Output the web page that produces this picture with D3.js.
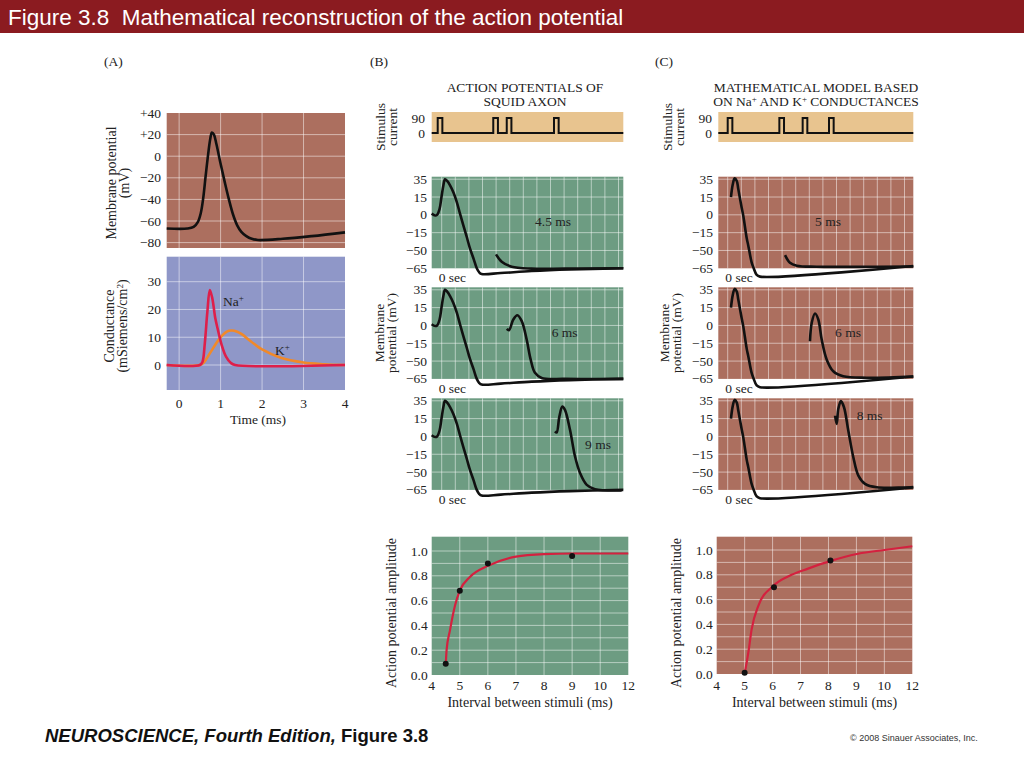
<!DOCTYPE html>
<html><head><meta charset="utf-8">
<script src="https://cdn.jsdelivr.net/npm/d3@7"></script>
<style>body{margin:0;background:#fff}svg{display:block}</style>
</head><body>
<svg id="c" width="1024" height="768"></svg>
<script>
// ---------------- DATA ----------------
const titleText = "Figure 3.8  Mathematical reconstruction of the action potential";
// Panel A: membrane potential (time ms, mV)
const apA = [[-0.3,-67],[0.2,-67],[0.35,-65.5],[0.45,-61],[0.52,-53],[0.58,-39],[0.64,-18],[0.7,2],[0.75,16],[0.79,22],[0.84,20],[0.9,11],[1.0,-7],[1.1,-24],[1.2,-40],[1.3,-54],[1.4,-64],[1.5,-70],[1.62,-74],[1.75,-76.5],[1.9,-77.6],[2.5,-76.5],[3.2,-74],[4,-70.5]];
const naCond = [[-0.3,0],[0.5,0],[0.56,1],[0.62,8],[0.68,19],[0.74,27],[0.8,24],[0.87,17],[0.93,13],[1.03,7],[1.13,3],[1.25,0.7],[1.35,0],[4,0]];
const kCond = [[-0.3,0],[0.5,0],[0.6,1],[0.74,4.2],[0.98,9.6],[1.15,12],[1.26,12.4],[1.4,12],[1.5,11.2],[1.74,8.4],[2,5.6],[2.45,2.6],[3,0.9],[3.5,0.3],[4,0]];
const ticksAtop = [40,20,0,-20,-40,-60,-80];
const ticksAcond = [0,10,20,30];
const ticksTime = [0,1,2,3,4];

// Panels B / C: stimulus onsets (ms) and traces (ms, mV)
const stimB = [0,4.41,5.48,9.23];
const stimC = [0,4.1,5.95,8.04];
const pulseWidth = 0.37;
const stimTicks = [0,90];
const mvTicks = [-65,-50,-15,0,15,35];
const apB = [[-0.48,1],[-0.2,-0.5],[-0.05,0],[0.15,5],[0.3,15],[0.45,28],[0.58,35],[0.75,33],[0.98,28],[1.25,20],[1.51,11],[1.77,1],[2.03,-8.7],[2.3,-23],[2.56,-45.8],[2.85,-57],[3.1,-65],[3.3,-68.5],[3.49,-69.8],[5,-69],[7.46,-67.3],[10.5,-66],[14.73,-65]];
const secondB45 = [[4.63,-53.3],[5.08,-59.5],[5.87,-63.7],[7.46,-65.3],[10.1,-65.3],[14.73,-65]];
const secondB6 = [[5.48,-2.9],[5.66,-4],[6.0,5],[6.32,8.6],[6.67,3.6],[7.06,-11.9],[7.38,-47.2],[7.72,-59.9],[8.25,-64.2],[10.1,-65],[14.73,-65]];
const secondB9 = [[9.31,4.2],[9.44,3.3],[9.65,16.8],[9.89,28.6],[10.1,24.8],[10.5,5.6],[10.9,-19.5],[11.3,-50.9],[11.83,-60.8],[12.48,-64.4],[14.6,-65.5]];
const apC = [[0.26,15],[0.4,29],[0.55,36],[0.72,33],[0.84,24],[1.11,6],[1.24,-1],[1.51,-26],[1.63,-40],[1.9,-60],[2.03,-64],[2.3,-70.5],[2.56,-72],[14.73,-63]];
const secondC5 = [[4.55,-53.9],[4.94,-60.3],[5.48,-62.8],[7.06,-63.7],[10,-63.8],[14.73,-63.5]];
const secondC6 = [[6.53,-13.3],[6.67,2.2],[6.93,10],[7.19,5],[7.46,-11.9],[7.86,-47.2],[8.38,-58.6],[9.17,-62.8],[11.03,-64],[14.73,-63]];
const secondC8 = [[8.52,18.4],[8.65,10.6],[8.78,26],[8.99,34.6],[9.23,27.8],[9.57,5],[9.97,-21],[10.37,-53],[10.9,-59.9],[11.83,-62.8],[14.73,-62.5]];
const labelsB = ["4.5 ms","6 ms","9 ms"];
const labelsC = ["5 ms","6 ms","8 ms"];

// Amplitude vs interval
const intervalTicks = [4,5,6,7,8,9,10,12];
const ampTicks = [0,0.2,0.4,0.6,0.8,1.0];
const curveBx = [4.5,4.53,4.65,4.83,5,5.36,6,7,8,9,10,12];
const curveBy = [0.08,0.2,0.36,0.56,0.68,0.79,0.88,0.955,0.975,0.98,0.98,0.98];
const dotsBx = [4.5,5,6,9];
const dotsBy = [0.09,0.68,0.9,0.96];
const curveCx = [5,5.13,5.25,5.49,6.02,6.68,7.27,8.05,9.06,10,12];
const curveCy = [0.0,0.17,0.36,0.55,0.71,0.80,0.85,0.91,0.97,1.0,1.03];
const dotsCx = [5,6.05,8.07];
const dotsCy = [0.01,0.70,0.915];

// ---------------- STYLE ----------------
const SERIF = "'Liberation Serif','Times New Roman',serif";
const SANS = "'Liberation Sans',Arial,sans-serif";
const C_RED = "#ac6f5f", C_GREEN = "#6d9c82", C_BLUE = "#8f97c8", C_TAN = "#e8c48f";
const GRID = "rgba(255,255,255,0.5)";
const FS = 13.5;
const svg = d3.select("#c");

// header
svg.append("rect").attr("x",0).attr("y",0).attr("width",1024).attr("height",33).attr("fill","#8b1b20");
svg.append("text").attr("x",8).attr("y",25).attr("fill","#fff").style("white-space","pre")
  .attr("font-family",SANS).attr("font-size",22.5).text(titleText);

// footer
const ft = svg.append("text").attr("x",45).attr("y",742).attr("font-family",SANS).attr("font-size",18.5).attr("font-weight","bold").attr("fill","#111").style("white-space","pre");
ft.append("tspan").attr("font-style","italic").text("NEUROSCIENCE, Fourth Edition, ");
ft.append("tspan").text("Figure 3.8");
svg.append("text").attr("x",850).attr("y",741).attr("font-family",SANS).attr("font-size",9).attr("fill","#333").text("© 2008 Sinauer Associates, Inc.");

function txt(x,y,s,opt={}){
  return svg.append("text").attr("x",x).attr("y",y).attr("font-family",SERIF)
    .attr("font-size",opt.size||FS).attr("fill",opt.fill||"#222")
    .attr("text-anchor",opt.anchor||"start").text(s);
}
function vtxt(x,y,s,size){
  return svg.append("text").attr("transform",`translate(${x},${y}) rotate(-90)`)
    .attr("font-family",SERIF).attr("font-size",size||14).attr("fill","#222")
    .attr("text-anchor","middle").text(s);
}
function panel(x0,x1,y0,y1,fill){
  svg.append("rect").attr("x",x0).attr("y",y0).attr("width",x1-x0).attr("height",y1-y0).attr("fill",fill);
}
function vgrid(xs,y0,y1){ svg.append("g").selectAll("line").data(xs).join("line")
  .attr("x1",d=>d).attr("x2",d=>d).attr("y1",y0).attr("y2",y1).attr("stroke",GRID).attr("stroke-width",1); }
function hgrid(ys,x0,x1){ svg.append("g").selectAll("line").data(ys).join("line")
  .attr("y1",d=>d).attr("y2",d=>d).attr("x1",x0).attr("x2",x1).attr("stroke",GRID).attr("stroke-width",1); }
const fmtSigned = v => v>0 ? "+"+v : v<0 ? "\u2212"+Math.abs(v) : "0";
const fmtMinus = v => v<0 ? "\u2212"+Math.abs(v) : String(v);

// ---------------- PANEL A ----------------
txt(104,66,"(A)");
const xA = d3.scaleLinear().domain([-0.3,4]).range([166.7,345]);
const yA1 = d3.scaleLinear().domain([-85,40]).range([248,113]);
const yA2 = d3.scaleLinear().domain([-9,39]).range([390,256.7]);
panel(xA(-0.3),xA(4),yA1(40),yA1(-85),C_RED);
vgrid([0,1,2,3].map(xA),yA1(40),yA1(-85));
hgrid(ticksAtop.slice(1).map(yA1),xA(-0.3),xA(4));
ticksAtop.forEach(v=>txt(161,yA1(v)+4.5,fmtSigned(v),{anchor:"end"}));
const curve = d3.curveCatmullRom.alpha(0.5);
svg.append("path").datum(apA).attr("fill","none").attr("stroke","#111").attr("stroke-width",2.6)
  .attr("d",d3.line().x(d=>xA(d[0])).y(d=>yA1(d[1])).curve(curve));
vtxt(116,183,"Membrane potential");
vtxt(129,183,"(mV)");

panel(xA(-0.3),xA(4),yA2(39),yA2(-9),C_BLUE);
vgrid([0,1,2,3].map(xA),yA2(39),yA2(-9));
hgrid(ticksAcond.map(yA2),xA(-0.3),xA(4));
ticksAcond.forEach(v=>txt(161,yA2(v)+4.5,String(v),{anchor:"end"}));
ticksTime.forEach(v=>txt(xA(v),408,String(v),{anchor:"middle"}));
txt(258,424,"Time (ms)",{anchor:"middle"});
svg.append("path").datum(kCond).attr("fill","none").attr("stroke","#f0892a").attr("stroke-width",2.6)
  .attr("d",d3.line().x(d=>xA(d[0])).y(d=>yA2(d[1])).curve(curve));
svg.append("path").datum(naCond).attr("fill","none").attr("stroke","#de1f4a").attr("stroke-width",2.6)
  .attr("d",d3.line().x(d=>xA(d[0])).y(d=>yA2(d[1])).curve(curve));
const naL = txt(223,306,"Na"); naL.append("tspan").attr("dy",-5).attr("font-size",9).text("+");
const kL = txt(275,355,"K"); kL.append("tspan").attr("dy",-5).attr("font-size",9).text("+");
vtxt(114,326,"Conductance");
const cl = vtxt(127,326,"(mSiemens/cm");
cl.append("tspan").attr("dy",-4).attr("font-size",9).text("2");
cl.append("tspan").attr("dy",4).text(")");

// ---------------- PANELS B & C ----------------
function column(cfg){
  const {x0,x1,tOrigin,stim,ap,seconds,labels,labelPos,tickX,stimLabX,memLabX,ampLabX,title1,title2,titleX,panelLetter,letterX,curveX,curveY,dotsX,dotsY,ampX0,ampX1,ampY0,gridStart} = cfg;
  txt(letterX,66,panelLetter);
  txt(titleX,92,title1,{anchor:"middle"});
  const t2 = svg.append("text").attr("x",titleX).attr("y",105.5).attr("font-family",SERIF).attr("font-size",FS).attr("fill","#222").attr("text-anchor","middle");
  title2.forEach(p=>{ const s=t2.append("tspan").text(p.t); if(p.sup){s.attr("dy",-4).attr("font-size",9);} else if(p.after){s.attr("dy",4);} });
  const pxPerMs = 12.6;
  const x = d3.scaleLinear().domain([(x0-tOrigin)/pxPerMs,(x1-tOrigin)/pxPerMs]).range([x0,x1]);
  const [tMin,tMax] = x.domain();
  // stimulus
  panel(x0,x1,112,142,C_TAN);
  const ys = d3.scaleLinear().domain([0,90]).range([133,118]);
  const sp = [[tMin,0]];
  stim.forEach(s=>{ sp.push([s,0],[s,90],[s+pulseWidth,90],[s+pulseWidth,0]); });
  sp.push([tMax,0]);
  svg.append("path").datum(sp).attr("fill","none").attr("stroke","#111").attr("stroke-width",2)
    .attr("d",d3.line().x(d=>x(d[0])).y(d=>ys(d[1])));
  stimTicks.forEach(v=>txt(stimLabX,ys(v)+4.5,String(v),{anchor:"end"}));
  vtxt(stimLabX-40,127,"Stimulus",13.5);
  vtxt(stimLabX-28,127,"current",13.5);
  // traces
  const tops = [176.7,287.3,398.3];
  const H = 91.6;
  tops.forEach((top,i)=>{
    const bottom = top+H, step=(H-2.5)/5;
    const y = d3.scaleLinear().domain(mvTicks).range(mvTicks.map((d,k)=>bottom-k*step));
    panel(x0,x1,top,bottom,cfg.bg);
    const gx = d3.range(14).map(k=>x0+gridStart+k*13.6);
    vgrid(gx,top,bottom);
    hgrid(mvTicks.slice(1).map(y),x0,x1);
    mvTicks.forEach(v=>txt(tickX,y(v)+4.5,fmtMinus(v),{anchor:"end"}));
    txt(x0+7,bottom+14,"0 sec");
    const line = d3.line().x(d=>x(d[0])).y(d=>y(d[1])).curve(curve);
    [ap,seconds[i]].forEach(s=>svg.append("path").datum(s).attr("fill","none").attr("stroke","#111")
      .attr("stroke-width",2.6).attr("stroke-linejoin","round").attr("d",line));
    txt(labelPos[i][0],labelPos[i][1],labels[i]);
  });
  vtxt(memLabX,333,"Membrane",13.5);
  vtxt(memLabX+12,333,"potential (mV)",13.5);
  // amplitude
  const xa = d3.scaleLinear().domain(intervalTicks).range(intervalTicks.map((d,k)=>ampX0+k*(ampX1-ampX0)/7));
  const ya = d3.scaleLinear().domain([0,1]).range([ampY0,ampY0-124]);
  const top = 536.7;
  panel(ampX0,ampX1,top,ampY0,cfg.bg);
  vgrid(intervalTicks.slice(1,-1).map(xa),top,ampY0);
  hgrid(d3.range(1,11).map(k=>ya(k/10)),ampX0,ampX1);
  intervalTicks.forEach(v=>txt(xa(v),690,String(v),{anchor:"middle"}));
  ampTicks.forEach(v=>txt(ampX0-4,ya(v)+4.5,v.toFixed(1),{anchor:"end"}));
  const cd = curveX.map((d,k)=>[d,curveY[k]]);
  svg.append("path").datum(cd).attr("fill","none").attr("stroke","#d4213f").attr("stroke-width",2.2)
    .attr("d",d3.line().x(d=>xa(d[0])).y(d=>ya(d[1])).curve(d3.curveMonotoneX));
  svg.append("g").selectAll("circle").data(dotsX.map((d,k)=>[d,dotsY[k]])).join("circle")
    .attr("cx",d=>xa(d[0])).attr("cy",d=>ya(d[1])).attr("r",3).attr("fill","#111");
  txt((ampX0+ampX1)/2,707,"Interval between stimuli (ms)",{anchor:"middle",size:14});
  vtxt(ampLabX,613,"Action potential amplitude",14);
}

column({x0:431.7,x1:623.3,tOrigin:437.7,stim:stimB,ap:apB,seconds:[secondB45,secondB6,secondB9],
  labels:labelsB,labelPos:[[535,226],[551.7,337],[585,449]],tickX:427,stimLabX:425,memLabX:384,ampLabX:396,
  title1:"ACTION POTENTIALS OF",title2:[{t:"SQUID AXON"}],titleX:525,panelLetter:"(B)",letterX:370,
  curveX:curveBx,curveY:curveBy,dotsX:dotsBx,dotsY:dotsBy,ampX0:431.7,ampX1:628.3,ampY0:675,bg:C_GREEN,gridStart:10});
column({x0:718.3,x1:913.3,tOrigin:727.7,stim:stimC,ap:apC,seconds:[secondC5,secondC6,secondC8],
  labels:labelsC,labelPos:[[815,226],[835,337],[856.7,420]],tickX:713,stimLabX:712,memLabX:669,ampLabX:681,
  title1:"MATHEMATICAL MODEL BASED",title2:[{t:"ON Na"},{t:"+",sup:true},{t:" AND K",after:true},{t:"+",sup:true},{t:" CONDUCTANCES",after:true}],titleX:816,panelLetter:"(C)",letterX:655,
  curveX:curveCx,curveY:curveCy,dotsX:dotsCx,dotsY:dotsCy,ampX0:716.7,ampX1:912.3,ampY0:674,bg:C_RED,gridStart:9.4});
</script>
</body></html>
